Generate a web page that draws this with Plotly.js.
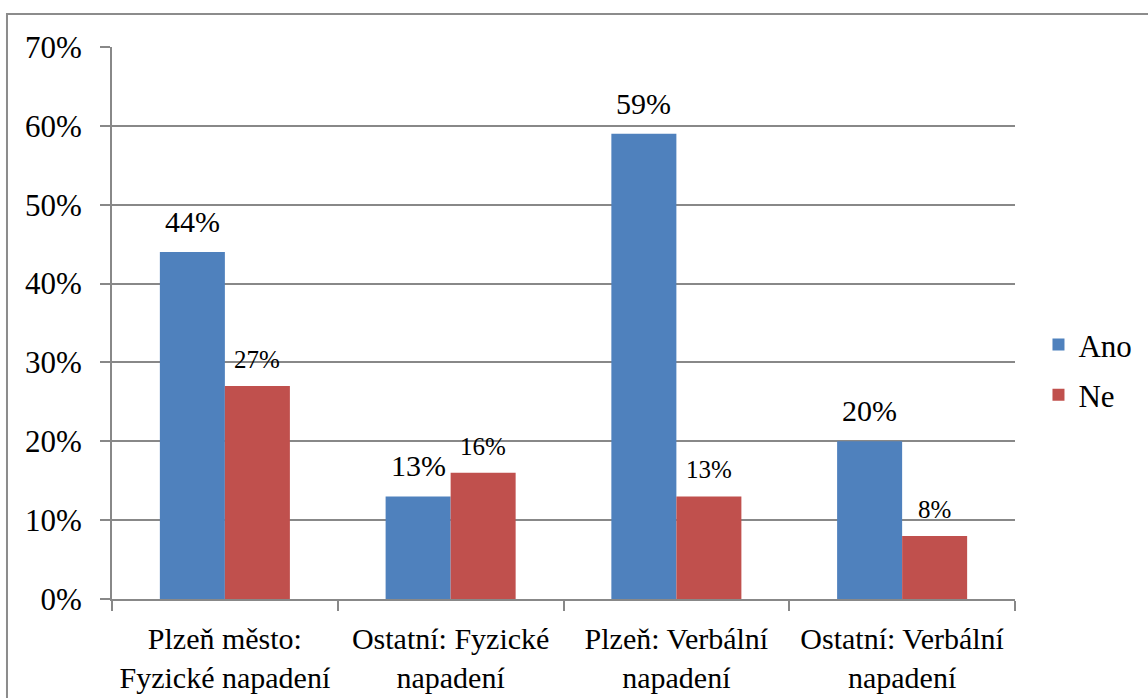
<!DOCTYPE html>
<html>
<head>
<meta charset="utf-8">
<script src="https://cdn.plot.ly/plotly-3.0.1.min.js"></script>
<style>
  html, body { margin: 0; padding: 0; background: #fff; }
  #chart { width: 1148px; height: 698px; }
</style>
</head>
<body>
<div id="chart"></div>
<script>
const categories = [
  "Plzeň město:<br>Fyzické napadení",
  "Ostatní: Fyzické<br>napadení",
  "Plzeň: Verbální<br>napadení",
  "Ostatní: Verbální<br>napadení"
];
const anoValues = [0.44, 0.13, 0.59, 0.20];
const neValues = [0.27, 0.16, 0.13, 0.08];
const yTickValues = [0, 0.1, 0.2, 0.3, 0.4, 0.5, 0.6, 0.7];

const fontFamily = 'Liberation Serif, Times New Roman, serif';
const gridColor = '#888888';
const pct = v => Math.round(v * 100) + '%';

const traces = [
  {
    type: 'bar', name: 'Ano', x: categories, y: anoValues,
    legendgroup: 'a',
    marker: { color: '#4F81BD' },
    hoverinfo: 'skip'
  },
  {
    type: 'bar', name: 'Ne', x: categories, y: neValues,
    legendgroup: 'b',
    marker: { color: '#C0504D' },
    hoverinfo: 'skip'
  }
];

const annotations = [];
categories.forEach((c, i) => {
  annotations.push({
    x: c, y: anoValues[i], xref: 'x', yref: 'y',
    text: pct(anoValues[i]), showarrow: false,
    xanchor: 'center', yanchor: 'bottom', xshift: -32.5, yshift: 12,
    font: { family: fontFamily, size: 30, color: '#000' }
  });
  annotations.push({
    x: c, y: neValues[i], xref: 'x', yref: 'y',
    text: pct(neValues[i]), showarrow: false,
    xanchor: 'center', yanchor: 'bottom', xshift: 32.5, yshift: 11,
    font: { family: fontFamily, size: 25, color: '#000' }
  });
});

const layout = {
  width: 1148, height: 698,
  margin: { l: 112, r: 133, t: 47, b: 99, autoexpand: false },
  paper_bgcolor: '#fff', plot_bgcolor: '#fff',
  font: { family: fontFamily, color: '#000' },
  barmode: 'group',
  bargap: 0.424,
  bargroupgap: 0,
  showlegend: true,
  legend: {
    x: 1.026, y: 0.415, xanchor: 'left', yanchor: 'middle',
    font: { family: fontFamily, size: 31, color: '#000' },
    itemwidth: 30, tracegroupgap: 7
  },
  xaxis: {
    type: 'category',
    tickson: 'boundaries',
    tickangle: 0,
    ticks: 'outside', ticklen: 10, tickcolor: gridColor, tickwidth: 2,
    ticklabelstandoff: 12,
    showline: true, linecolor: gridColor, linewidth: 2,
    tickfont: { family: fontFamily, size: 30, color: '#000' },
    showgrid: false, zeroline: false,
    fixedrange: true
  },
  yaxis: {
    range: [0, 0.7],
    tickvals: yTickValues,
    tickformat: '.0%',
    ticks: 'outside', ticklen: 10, tickcolor: gridColor, tickwidth: 2,
    ticklabelstandoff: 12,
    showline: true, linecolor: gridColor, linewidth: 2,
    showgrid: true, gridcolor: gridColor, gridwidth: 2,
    zeroline: false,
    tickfont: { family: fontFamily, size: 31, color: '#000' },
    fixedrange: true
  },
  annotations: annotations,
  shapes: [
    {
      type: 'rect', xref: 'paper', yref: 'paper',
      x0: -0.1163, x1: 1.2, y0: -0.25, y1: 1.0598,
      line: { color: '#8c8c8c', width: 2 }, fillcolor: 'rgba(0,0,0,0)'
    }
  ]
};

Plotly.newPlot('chart', traces, layout, { displayModeBar: false, staticPlot: true });
</script>
</body>
</html>
